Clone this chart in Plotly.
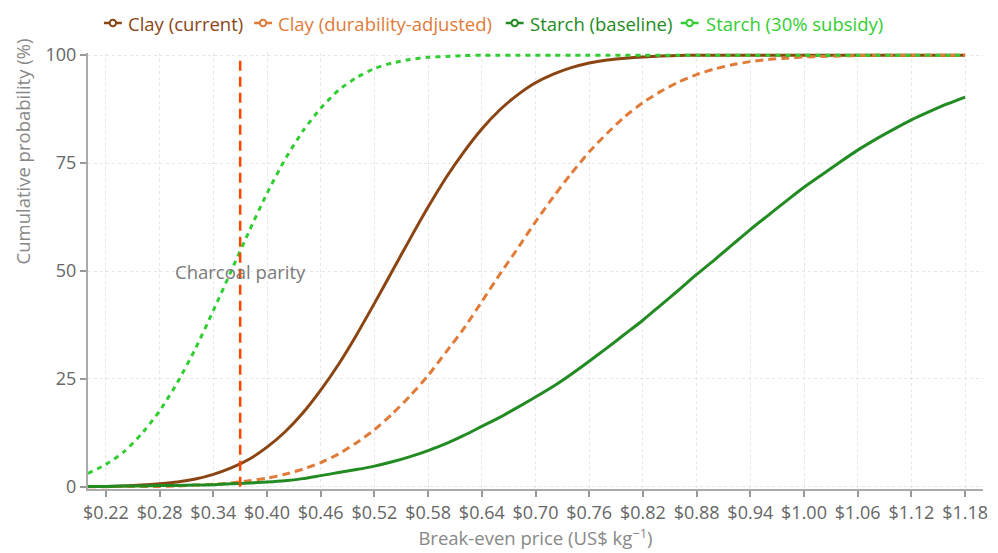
import plotly.graph_objects as go

# ---- data ----
price = [0.20, 0.22, 0.24, 0.26, 0.28, 0.30, 0.32, 0.34, 0.36, 0.38,
         0.40, 0.42, 0.44, 0.46, 0.48, 0.50, 0.52, 0.54, 0.56, 0.58,
         0.60, 0.62, 0.64, 0.66, 0.68, 0.70, 0.72, 0.74, 0.76, 0.78,
         0.80, 0.82, 0.84, 0.86, 0.88, 0.90, 0.92, 0.94, 0.96, 0.98,
         1.00, 1.02, 1.04, 1.06, 1.08, 1.10, 1.12, 1.14, 1.16, 1.18]

clay_current = [0.1, 0.1, 0.2, 0.4, 0.7, 1.1, 1.8, 2.9, 4.4, 6.4,
                9.2, 12.7, 17.1, 22.4, 28.4, 35.2, 42.5, 50.0, 57.5, 64.8,
                71.6, 77.6, 82.9, 87.3, 90.8, 93.6, 95.6, 97.1, 98.2, 98.9,
                99.3, 99.6, 99.8, 99.9, 100, 100, 100, 100, 100, 100,
                100, 100, 100, 100, 100, 100, 100, 100, 100, 100]

clay_durability = [0.0, 0.0, 0.1, 0.1, 0.1, 0.2, 0.4, 0.6, 0.9, 1.4,
                   2.0, 2.9, 4.1, 5.6, 7.6, 10.2, 13.2, 16.9, 21.1, 25.8,
                   31.2, 36.7, 42.9, 49.2, 55.2, 61.4, 67.2, 72.6, 77.6, 81.9,
                   85.8, 89.0, 91.6, 93.8, 95.5, 96.8, 97.8, 98.5, 99.0, 99.3,
                   99.6, 99.7, 99.8, 99.9, 100, 100, 100, 100, 100, 100]

starch_baseline = [0.1, 0.1, 0.2, 0.2, 0.3, 0.3, 0.4, 0.5, 0.7, 0.9,
                   1.1, 1.4, 1.9, 2.6, 3.3, 4.0, 4.8, 5.8, 7.0, 8.4,
                   10.0, 11.9, 14.0, 16.1, 18.4, 20.8, 23.3, 26.1, 29.1, 32.2,
                   35.4, 38.6, 42.1, 45.6, 49.2, 52.6, 56.1, 59.6, 62.9, 66.2,
                   69.4, 72.3, 75.2, 78.0, 80.5, 82.8, 85.0, 86.9, 88.7, 90.3]

starch_subsidy = [3.1, 5.2, 8.1, 12.3, 17.6, 24.2, 32.0, 40.8, 50.0, 59.2,
                  68.0, 75.8, 82.4, 87.7, 91.9, 94.8, 96.9, 98.2, 99.0, 99.5,
                  99.7, 99.9, 100, 100, 100, 100, 100, 100, 100, 100,
                  100, 100, 100, 100, 100, 100, 100, 100, 100, 100,
                  100, 100, 100, 100, 100, 100, 100, 100, 100, 100]

series_names = ["Clay (current)", "Clay (durability-adjusted)",
                "Starch (baseline)", "Starch (30% subsidy)"]
series_colors = ["#8B4513", "#E07B39", "#228B22", "#32CD32"]
series_dash = ["solid", "8px,5px", "solid", "5px,5px"]
series_values = [clay_current, clay_durability, starch_baseline, starch_subsidy]

x_tickvals = [0.22, 0.28, 0.34, 0.40, 0.46, 0.52, 0.58, 0.64, 0.70, 0.76,
              0.82, 0.88, 0.94, 1.00, 1.06, 1.12, 1.18]
x_ticktext = ["$0.22", "$0.28", "$0.34", "$0.40", "$0.46", "$0.52", "$0.58",
              "$0.64", "$0.70", "$0.76", "$0.82", "$0.88", "$0.94", "$1.00",
              "$1.06", "$1.12", "$1.18"]
y_tickvals = [0, 25, 50, 75, 100]

charcoal_parity = 0.37
parity_label = "Charcoal parity"
x_title = "Break-even price (US$ kg<sup>−1</sup>)"
y_title = "Cumulative probability (%)"

# legend layout (paper x of each entry's symbol start / text start)
legend_symbol_x = [0.0178, 0.1856, 0.4667, 0.6622]
legend_text_x = [0.0422, 0.2100, 0.4911, 0.6878]
LEGEND_SYMBOL_W = 0.02
LEGEND_SHIFT = 30  # px above plot top

FONT = "Open Sans, Noto Sans, sans-serif"

fig = go.Figure()

for name, color, dash, vals in zip(series_names, series_colors, series_dash, series_values):
    fig.add_trace(go.Scatter(
        x=price, y=vals, mode="lines", name=name, showlegend=False,
        line=dict(color=color, width=3, dash=dash, shape="spline", smoothing=0.6),
    ))

# custom legend: short solid line + open circle, coloured label
for name, color, sx, tx in zip(series_names, series_colors, legend_symbol_x, legend_text_x):
    fig.add_shape(type="line", xref="paper", yref="paper", ysizemode="pixel",
                  yanchor=1, x0=sx, x1=sx + LEGEND_SYMBOL_W,
                  y0=LEGEND_SHIFT, y1=LEGEND_SHIFT,
                  line=dict(color=color, width=2.5))
    cx = sx + LEGEND_SYMBOL_W / 2
    fig.add_shape(type="circle", xref="paper", yref="paper",
                  xsizemode="pixel", ysizemode="pixel", xanchor=cx, yanchor=1,
                  x0=-3.2, x1=3.2, y0=LEGEND_SHIFT - 3.2, y1=LEGEND_SHIFT + 3.2,
                  line=dict(color=color, width=2), fillcolor="white")
    fig.add_annotation(x=tx, y=1, xref="paper", yref="paper", xanchor="left",
                       yanchor="middle", yshift=LEGEND_SHIFT, showarrow=False,
                       text=name, font=dict(family=FONT, size=18.5, color=color))

fig.add_shape(type="line", xref="x", yref="y",
              x0=charcoal_parity, x1=charcoal_parity, y0=0, y1=100,
              line=dict(color="#FF4500", width=2.5, dash="10px,6px"))

fig.add_annotation(x=charcoal_parity, y=50, xref="x", yref="y",
                   text=parity_label, showarrow=False,
                   font=dict(family=FONT, size=18.5, color="#7a7a7a"))

# y-axis title placed in the upper half, as in the reference
fig.add_annotation(x=-0.0733, y=0.775, xref="paper", yref="paper",
                   xanchor="center", yanchor="middle", textangle=-90,
                   text=y_title, showarrow=False,
                   font=dict(family=FONT, size=18.5, color="#888"))

fig.update_layout(
    width=990, height=545,
    margin=dict(l=80, r=10, t=45, b=64),
    paper_bgcolor="white", plot_bgcolor="white",
    font=dict(family=FONT, size=18, color="#666"),
    showlegend=False,
)

fig.update_xaxes(
    range=[0.20, 1.20],
    tickvals=x_tickvals, ticktext=x_ticktext,
    ticks="outside", ticklen=6, tickcolor="#999", tickwidth=1.5,
    showline=True, linecolor="#aaa", linewidth=2,
    showgrid=True, gridcolor="#e6e6e6", griddash="dot", gridwidth=1,
    zeroline=False,
    tickfont=dict(size=18, color="#666"),
    title=dict(text=x_title, font=dict(size=18.5, color="#888"), standoff=6),
)

fig.update_yaxes(
    range=[-0.5, 100.5],
    tickvals=y_tickvals,
    ticks="outside", ticklen=6, tickcolor="#999", tickwidth=1.5,
    showline=True, linecolor="#aaa", linewidth=2,
    showgrid=True, gridcolor="#e6e6e6", griddash="dot", gridwidth=1,
    zeroline=False,
    tickfont=dict(size=18, color="#666"),
)

fig.write_html("out.html")
